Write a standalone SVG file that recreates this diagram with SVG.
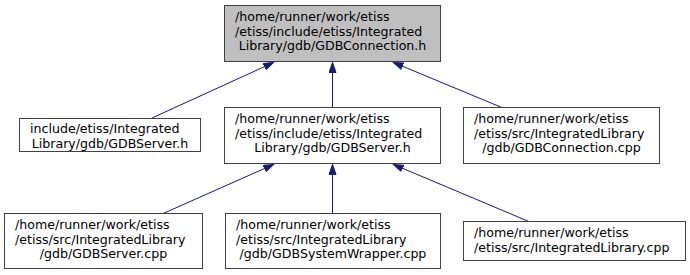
<svg xmlns="http://www.w3.org/2000/svg" width="690" height="275" viewBox="0 0 690 275">
  <style>
    .box { fill: #ffffff; stroke: #404040; stroke-width: 1; }
    .box.focus { fill: #bfbfbf; }
    .lbl { font-family: "DejaVu Sans", "Liberation Sans", sans-serif; font-size: 12.6px; fill: #000000; }
    .mid { text-anchor: middle; }
    .edge { stroke: #191970; stroke-width: 1; fill: none; marker-end: url(#head); }
  </style>
  <defs>
    <marker id="head" markerUnits="userSpaceOnUse" markerWidth="11" markerHeight="8" viewBox="0 -4 11 8" refX="10" refY="0" orient="auto">
      <path d="M0,-3.5 L10,0 L0,3.5 Z" fill="#191970" stroke="#191970" stroke-width="1"/>
    </marker>
  </defs>
  <rect width="690" height="275" fill="#ffffff"/>

  <g id="connectors">
    <line class="edge" x1="152" y1="118" x2="273.5" y2="62.5"/>
    <line class="edge" x1="332.5" y1="107.5" x2="332.5" y2="62.5"/>
    <line class="edge" x1="503" y1="108" x2="393.5" y2="62.5"/>
    <line class="edge" x1="162" y1="214" x2="273.5" y2="164.5"/>
    <line class="edge" x1="332.5" y1="213.5" x2="332.5" y2="164.5"/>
    <line class="edge" x1="530" y1="222" x2="393.5" y2="164.5"/>
  </g>

  <g id="node-gdbconnection-h">
    <rect class="box focus" x="224.5" y="5.5" width="216" height="56"/>
    <text class="lbl" x="235" y="21">/home/runner/work/etiss</text>
    <text class="lbl" x="235" y="35.5">/etiss/include/etiss/Integrated</text>
    <text class="lbl mid" x="332.5" y="50">Library/gdb/GDBConnection.h</text>
  </g>

  <g id="node-gdbserver-h-rel">
    <rect class="box" x="19.5" y="118.5" width="181" height="33"/>
    <text class="lbl" x="30" y="133">include/etiss/Integrated</text>
    <text class="lbl mid" x="110" y="147.5">Library/gdb/GDBServer.h</text>
  </g>

  <g id="node-gdbserver-h">
    <rect class="box" x="224.5" y="107.5" width="216" height="56"/>
    <text class="lbl" x="235" y="123">/home/runner/work/etiss</text>
    <text class="lbl" x="235" y="137.5">/etiss/include/etiss/Integrated</text>
    <text class="lbl mid" x="332.5" y="152">Library/gdb/GDBServer.h</text>
  </g>

  <g id="node-gdbconnection-cpp">
    <rect class="box" x="463.5" y="107.5" width="196" height="56"/>
    <text class="lbl" x="474" y="123">/home/runner/work/etiss</text>
    <text class="lbl" x="474" y="137.5">/etiss/src/IntegratedLibrary</text>
    <text class="lbl mid" x="561.5" y="152">/gdb/GDBConnection.cpp</text>
  </g>

  <g id="node-gdbserver-cpp">
    <rect class="box" x="4.5" y="213.5" width="198" height="55"/>
    <text class="lbl" x="15" y="229">/home/runner/work/etiss</text>
    <text class="lbl" x="15" y="243.5">/etiss/src/IntegratedLibrary</text>
    <text class="lbl mid" x="103.5" y="258">/gdb/GDBServer.cpp</text>
  </g>

  <g id="node-gdbsystemwrapper-cpp">
    <rect class="box" x="225.5" y="213.5" width="215" height="55"/>
    <text class="lbl" x="236" y="229">/home/runner/work/etiss</text>
    <text class="lbl" x="236" y="243.5">/etiss/src/IntegratedLibrary</text>
    <text class="lbl mid" x="333" y="258">/gdb/GDBSystemWrapper.cpp</text>
  </g>

  <g id="node-integratedlibrary-cpp">
    <rect class="box" x="463.5" y="221.5" width="222" height="39"/>
    <text class="lbl" x="474" y="237">/home/runner/work/etiss</text>
    <text class="lbl" x="474" y="251.5">/etiss/src/IntegratedLibrary.cpp</text>
  </g>
</svg>
